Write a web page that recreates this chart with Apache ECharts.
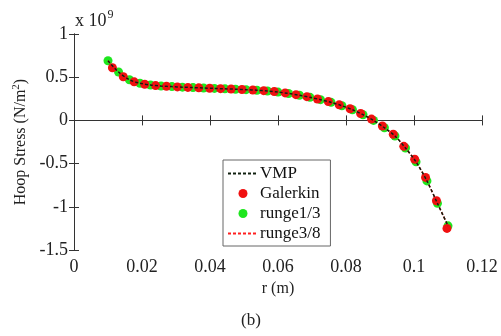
<!DOCTYPE html>
<html>
<head>
<meta charset="utf-8">
<script src="https://cdn.jsdelivr.net/npm/echarts@6/dist/echarts.min.js"></script>
<style>
  html, body { margin: 0; padding: 0; background: #fff; }
  #chart { width: 501px; height: 336px; }
</style>
</head>
<body>
<div id="chart"></div>
<script>
// Hoop stress along the radius (values in units of 1e9 N/m^2)
const galerkinR = [0.0113, 0.0145, 0.0177, 0.0208, 0.024, 0.0272, 0.0304, 0.0335, 0.0367, 0.0399, 0.0431,
  0.0462, 0.0494, 0.0526, 0.0558, 0.0589, 0.0621, 0.0653, 0.0685, 0.0716, 0.0748, 0.078, 0.0812,
  0.0843, 0.0875, 0.0907, 0.0939, 0.097, 0.1002, 0.1034, 0.1066, 0.1097];
const galerkinS = [0.61, 0.505, 0.446, 0.418, 0.403, 0.395, 0.388, 0.382, 0.377, 0.372, 0.367,
  0.363, 0.358, 0.352, 0.344, 0.334, 0.318, 0.298, 0.275, 0.248, 0.218, 0.18, 0.135,
  0.08, 0.015, -0.065, -0.16, -0.30, -0.45, -0.66, -0.93, -1.25];

const rungeR = [0.01, 0.0131, 0.0163, 0.0194, 0.0225, 0.0256, 0.0288, 0.0319, 0.035, 0.0381, 0.0413,
  0.0444, 0.0475, 0.0506, 0.0538, 0.0569, 0.06, 0.0631, 0.0663, 0.0694, 0.0725, 0.0756, 0.0788,
  0.0819, 0.085, 0.0881, 0.0913, 0.0944, 0.0975, 0.1006, 0.1038, 0.1069, 0.11];
const runge13S = [0.69, 0.56, 0.47, 0.43, 0.41, 0.398, 0.391, 0.385, 0.38, 0.375, 0.37,
  0.365, 0.361, 0.356, 0.349, 0.34, 0.328, 0.312, 0.291, 0.267, 0.24, 0.209, 0.17,
  0.123, 0.066, 0.0, -0.085, -0.18, -0.32, -0.48, -0.7, -0.96, -1.22];
const runge38S = [0.69, 0.56, 0.47, 0.43, 0.41, 0.398, 0.391, 0.385, 0.38, 0.375, 0.37,
  0.365, 0.361, 0.356, 0.349, 0.34, 0.328, 0.312, 0.291, 0.267, 0.24, 0.209, 0.17,
  0.123, 0.066, 0.0, -0.085, -0.18, -0.32, -0.48, -0.7, -0.96, -1.22];
const vmpS = [0.69, 0.56, 0.47, 0.43, 0.41, 0.398, 0.391, 0.385, 0.38, 0.375, 0.37,
  0.365, 0.361, 0.356, 0.349, 0.34, 0.328, 0.312, 0.291, 0.267, 0.24, 0.209, 0.17,
  0.123, 0.066, 0.0, -0.085, -0.18, -0.32, -0.48, -0.7, -0.96, -1.22];

const seriesNames = ['VMP', 'Galerkin', 'runge1/3', 'runge3/8'];

const FONT = 'Liberation Serif';
const pair = (xs, ys) => xs.map((x, i) => [x, ys[i]]);

const axisCommon = {
  axisLine: { show: true, lineStyle: { color: '#333', width: 1 } },
  axisTick: { show: true, inside: true, length: 5, lineStyle: { color: '#333' } },
  splitLine: { show: false }
};

// line entries in the legend show only their dashed stroke
const hiddenMarker = { opacity: 0, borderWidth: 0 };

const chart = echarts.init(document.getElementById('chart'));
chart.setOption({
  animation: false,
  backgroundColor: '#fff',
  grid: { left: 74, right: 19, top: 34, bottom: 86 },
  xAxis: [
    Object.assign({
      type: 'value', min: 0, max: 0.12, interval: 0.02,
      axisLabel: { color: '#222', fontFamily: FONT, fontSize: 18, margin: 8 },
      name: 'r (m)', nameLocation: 'middle', nameGap: 29,
      nameTextStyle: { color: '#222', fontFamily: FONT, fontSize: 16 }
    }, axisCommon),
    Object.assign({
      type: 'value', min: 0, max: 0.12, interval: 0.02, position: 'top',
      axisLabel: { show: false }
    }, axisCommon)
  ],
  yAxis: [
    Object.assign({
      type: 'value', min: -1.5, max: 1, interval: 0.5,
      axisLabel: { color: '#222', fontFamily: FONT, fontSize: 18, margin: 6 },
      name: '{t|Hoop Stress (N/m}{s|2}{t|)}', nameLocation: 'middle', nameGap: 36,
      nameTextStyle: {
        rich: {
          t: { color: '#222', fontFamily: FONT, fontSize: 16 },
          s: { color: '#222', fontFamily: FONT, fontSize: 11, verticalAlign: 'top', padding: [0, 0, 8, 0] }
        }
      }
    }, axisCommon),
    Object.assign({
      type: 'value', min: -1.5, max: 1, interval: 0.5, position: 'right',
      axisLabel: { show: false }
    }, axisCommon)
  ],
  legend: {
    left: 223, top: 160, width: 110, height: 86,
    orient: 'vertical',
    backgroundColor: '#fff',
    borderColor: '#666', borderWidth: 1,
    padding: [5, 10, 4, 4],
    itemGap: 3, itemWidth: 30, itemHeight: 9,
    textStyle: { color: '#111', fontFamily: FONT, fontSize: 17, padding: [0, 0, 0, -3] },
    data: [
      { name: 'VMP', itemStyle: hiddenMarker },
      { name: 'Galerkin', icon: 'circle' },
      { name: 'runge1/3', icon: 'circle' },
      { name: 'runge3/8', itemStyle: hiddenMarker }
    ]
  },
  graphic: [
    {
      type: 'text', left: 75, top: 9,
      style: {
        text: '{a|x 10}{b|9}',
        rich: {
          a: { fontFamily: FONT, fontSize: 18, fill: '#222' },
          b: { fontFamily: FONT, fontSize: 12, fill: '#222', verticalAlign: 'top', padding: [0, 0, 12, 1] }
        }
      }
    },
    {
      type: 'text', left: 241, top: 312,
      style: { text: '(b)', fontFamily: FONT, fontSize: 17, fill: '#222' }
    }
  ],
  series: [
    {
      name: 'runge1/3', type: 'scatter', data: pair(rungeR, runge13S),
      symbolSize: 9, itemStyle: { color: '#1ee61e', opacity: 1 }, z: 2
    },
    {
      name: 'Galerkin', type: 'scatter', data: pair(galerkinR, galerkinS),
      symbolSize: 9, itemStyle: { color: '#f01010', opacity: 1 }, z: 3
    },
    {
      name: 'runge3/8', type: 'line', data: pair(rungeR, runge38S),
      symbol: 'none', smooth: 0.3,
      lineStyle: { color: '#ff2020', width: 1.5, type: [3, 2] },
      itemStyle: { color: '#ff2020' }, z: 4
    },
    {
      name: 'VMP', type: 'line', data: pair(rungeR, vmpS),
      symbol: 'none', smooth: 0.3,
      lineStyle: { color: '#102010', width: 1.5, type: [3, 2] },
      itemStyle: { color: '#102010' }, z: 5
    }
  ]
});
</script>
</body>
</html>
